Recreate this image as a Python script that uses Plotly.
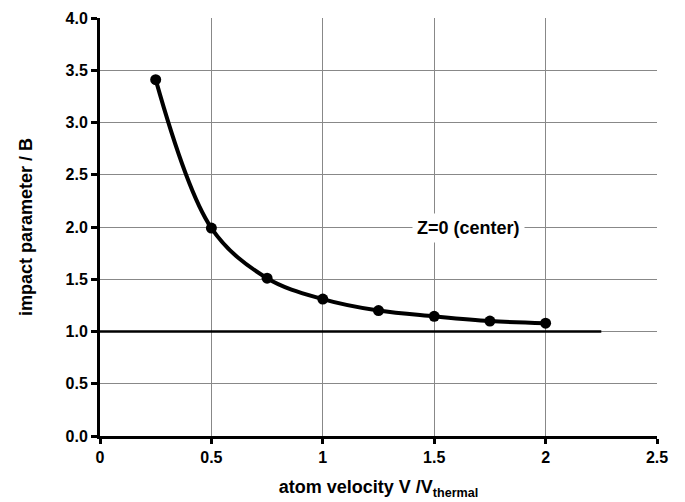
import plotly.graph_objects as go

velocity = [0.25, 0.5, 0.75, 1.0, 1.25, 1.5, 1.75, 2.0]
impact = [3.41, 1.99, 1.51, 1.31, 1.20, 1.145, 1.10, 1.08]
ref_x = [0, 2.25]
ref_y = [1.0, 1.0]
x_ticks = [0, 0.5, 1, 1.5, 2, 2.5]
x_tick_text = ["<b>0</b>", "<b>0.5</b>", "<b>1</b>", "<b>1.5</b>", "<b>2</b>", "<b>2.5</b>"]
y_ticks = [0, 0.5, 1, 1.5, 2, 2.5, 3, 3.5, 4]
y_tick_text = ["<b>0.0</b>", "<b>0.5</b>", "<b>1.0</b>", "<b>1.5</b>", "<b>2.0</b>",
               "<b>2.5</b>", "<b>3.0</b>", "<b>3.5</b>", "<b>4.0</b>"]

font = "Liberation Sans, Arial, sans-serif"

fig = go.Figure()
fig.add_trace(go.Scatter(x=ref_x, y=ref_y, mode="lines",
                         line=dict(color="black", width=2.5), showlegend=False))
fig.add_trace(go.Scatter(x=velocity, y=impact, mode="lines+markers",
                         line=dict(color="black", width=4, shape="spline", smoothing=1.0),
                         marker=dict(color="black", size=11), showlegend=False))

fig.add_annotation(x=1.654, y=1.99, text="<b>Z=0 (center)</b>", showarrow=False,
                   bgcolor="white", font=dict(family=font, size=18, color="black"),
                   borderpad=4)

fig.update_layout(
    width=677, height=494,
    margin=dict(l=92, r=28, t=10, b=66),
    plot_bgcolor="white", paper_bgcolor="white",
    font=dict(family=font, size=16, color="black"),
    xaxis=dict(range=[0, 2.5], tickvals=x_ticks, ticktext=x_tick_text,
               automargin=False,
               showgrid=True, gridcolor="#888888", gridwidth=1,
               showline=True, linecolor="black", linewidth=3,
               ticks="outside", ticklen=5, tickwidth=3, tickcolor="black",
               tickfont=dict(family=font, size=16, color="black"),
               zeroline=False,
               title=dict(text="<b>atom velocity V /V<sub>thermal</sub></b>",
                          font=dict(family=font, size=18), standoff=16)),
    yaxis=dict(range=[0, 4.0], tickvals=y_ticks, ticktext=y_tick_text,
               automargin=False,
               showgrid=True, gridcolor="#888888", gridwidth=1,
               showline=True, linecolor="black", linewidth=3,
               ticks="outside", ticklen=6, tickwidth=3, tickcolor="black",
               tickfont=dict(family=font, size=16, color="black"),
               zeroline=False,
               title=dict(text="<b>impact parameter / B</b>",
                          font=dict(family=font, size=18), standoff=29)),
)

fig.write_html("out.html")
